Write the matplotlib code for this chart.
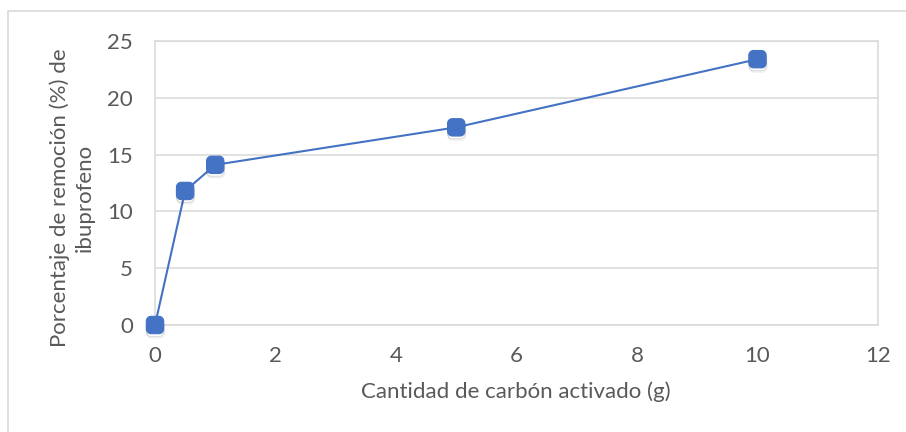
import numpy as np
import matplotlib
matplotlib.use("Agg")
import matplotlib.pyplot as plt
from matplotlib.path import Path
import matplotlib.patheffects as pe

# carbón activado (g) vs % de remoción de ibuprofeno
carbon_g = [0, 0.5, 1, 5, 10]
remocion = [0, 11.8, 14.1, 17.4, 23.4]
x_ticks = [0, 2, 4, 6, 8, 10, 12]
y_ticks = [0, 5, 10, 15, 20, 25]

plt.rcParams["font.family"] = ["Lato", "DejaVu Sans"]
text_col = "#595959"
blue = "#4472C4"
fs = 16


def rounded_square(r=0.55, n=8):
    # square marker with rounded corners
    verts = []
    corners = [(1, 1, 0), (-1, 1, 90), (-1, -1, 180), (1, -1, 270)]
    for cx, cy, a0 in corners:
        ox, oy = cx - np.sign(cx) * r, cy - np.sign(cy) * r
        for t in np.linspace(np.radians(a0), np.radians(a0 + 90), n):
            verts.append((ox + r * np.cos(t), oy + r * np.sin(t)))
    verts.append(verts[0])
    codes = [Path.MOVETO] + [Path.LINETO] * (len(verts) - 2) + [Path.CLOSEPOLY]
    return Path(verts, codes)


fig = plt.figure(figsize=(9.06, 4.32), dpi=100)
fig.patch.set_facecolor("white")

# outer chart frame
fig.add_artist(plt.Rectangle((8 / 906, -0.01), 1.0, 1 - 11 / 432 + 0.01,
                             transform=fig.transFigure, fill=False,
                             edgecolor="#d9d9d9", linewidth=1.2))

ax = fig.add_axes([155 / 906, 1 - 325 / 432, (878 - 155) / 906, (325 - 41) / 432])
ax.set_xlim(0, 12)
ax.set_ylim(0, 25)
ax.set_xticks(x_ticks)
ax.set_yticks(y_ticks)
ax.tick_params(length=0, labelsize=fs, labelcolor=text_col)
ax.tick_params(axis="x", pad=15)
ax.tick_params(axis="y", pad=16)
ax.grid(axis="y", color="#d9d9d9", linewidth=1.1)
ax.set_axisbelow(True)
for s in ax.spines.values():
    s.set_color("#d9d9d9")
    s.set_linewidth(1.1)

# line first, then the markers with a soft drop shadow
ax.plot(carbon_g, remocion, color=blue, linewidth=1.5, zorder=3, clip_on=False)
mk = rounded_square()
shadow = [pe.SimpleLineShadow(offset=(0.5, -3), shadow_color="black", alpha=0.08),
          pe.SimpleLineShadow(offset=(0, -2), shadow_color="black", alpha=0.14),
          pe.Normal()]
ax.plot(carbon_g, remocion, linestyle="none", marker=mk, markersize=12.5,
        markerfacecolor=blue, markeredgecolor=blue, markeredgewidth=0.8,
        clip_on=False, zorder=4, path_effects=shadow)

fig.text(516 / 906, 1 - 392 / 432, "Cantidad de carbón activado (g)", fontsize=fs,
         color=text_col, ha="center", va="center")
fig.text(72 / 906, 1 - 198 / 432, "Porcentaje de remoción (%) de\nibuprofeno", fontsize=fs,
         color=text_col, ha="center", va="center", rotation=90, linespacing=1.25,
         multialignment="center")

fig.savefig("out.png", dpi=100)
